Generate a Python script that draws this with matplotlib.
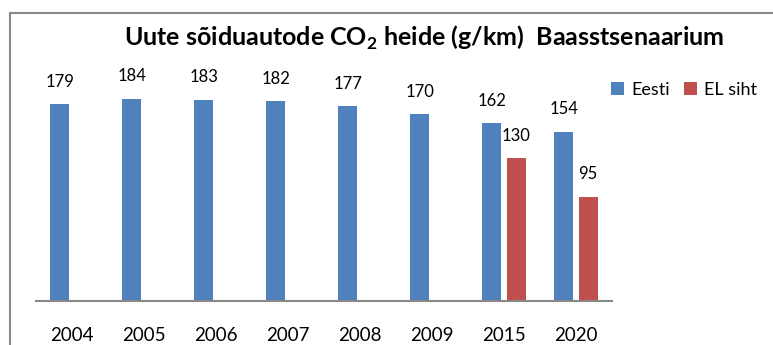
import matplotlib
matplotlib.use("Agg")
import matplotlib.pyplot as plt
from matplotlib.patches import Rectangle
import numpy as np

# Andmed
years = ["2004", "2005", "2006", "2007", "2008", "2009", "2015", "2020"]
eesti = [179, 184, 183, 182, 177, 170, 162, 154]
el_siht = [None, None, None, None, None, None, 130, 95]

plt.rcParams["font.family"] = ["Lato", "DejaVu Sans"]
plt.rcParams["mathtext.fontset"] = "custom"
plt.rcParams["mathtext.rm"] = "Lato"
plt.rcParams["mathtext.bf"] = "Lato:bold"

BLUE = "#4F81BD"
RED = "#C0504D"
GREY = "#898989"

fig = plt.figure(figsize=(7.73, 3.45), dpi=100)
ax = fig.add_axes([36 / 773, 44 / 345, 576 / 773, 220 / 345])

x = np.arange(len(years))
w = 0.264
off = 0.167

bars_e = ax.bar(x - off, eesti, width=w, color=BLUE, label="Eesti")
x_el = [xi + off for xi, v in zip(x, el_siht) if v is not None]
v_el = [v for v in el_siht if v is not None]
bars_r = ax.bar(x_el, v_el, width=w, color=RED, label="EL siht")

# Väärtused tulpade kohal
for bars, vals in ((bars_e, eesti), (bars_r, v_el)):
    for b, v in zip(bars, vals):
        ax.annotate(f"{v}", (b.get_x() + b.get_width() / 2, v),
                    xytext=(0, 16), textcoords="offset points",
                    ha="center", va="center", fontsize=12, annotation_clip=False)

ax.set_xlim(-0.5, len(years) - 0.5)
ax.set_ylim(0, 200)
ax.set_xticks(x)
ax.set_xticklabels(years, fontsize=13.5)
ax.tick_params(axis="x", length=0, pad=19)
ax.set_yticks([])
for s in ("top", "left", "right"):
    ax.spines[s].set_visible(False)
ax.spines["bottom"].set_color(GREY)
ax.spines["bottom"].set_linewidth(1.5)

fig.text(0.549, 0.89, r"Uute sõiduautode CO$_\mathbf{2}$ heide (g/km)  Baasstsenaarium",
         ha="center", va="center", fontsize=18, fontweight="bold")

fig.legend(handles=[bars_e, bars_r], loc="center left", bbox_to_anchor=(0.791, 0.739),
           ncol=2, frameon=False, fontsize=13, handlelength=0.7, handleheight=0.7,
           handletextpad=0.4, columnspacing=0.8, borderpad=0, borderaxespad=0)

# Diagrammi raam
fig.patches.append(Rectangle((9.5 / 773, -0.1), 1.0, (345 - 13) / 345 + 0.1,
                             transform=fig.transFigure, fill=False,
                             edgecolor=GREY, linewidth=1.5))

fig.savefig("out.png", dpi=100)
